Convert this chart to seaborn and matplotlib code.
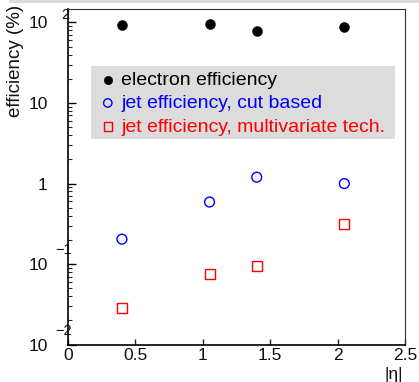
import matplotlib
matplotlib.use("Agg")
import matplotlib.pyplot as plt
import matplotlib.transforms as mtransforms
from matplotlib.patches import Rectangle
import seaborn as sns
import pandas as pd

sns.set_theme(style="white")
plt.rcParams['font.family'] = ['Liberation Sans', 'DejaVu Sans']

# data
eta = [0.40, 1.05, 1.40, 2.05]
electron_eff = [94, 97, 79, 89]
jet_eff_cut = [0.204, 0.59, 1.2, 1.0]
jet_eff_mva = [0.0284, 0.0764, 0.096, 0.313]
labels = ["electron efficiency", "jet efficiency, cut based", "jet efficiency, multivariate tech."]
ytick_vals = [1e-2, 1e-1, 1, 10, 100]
ytick_base = ["10", "10", "1", "10", "10"]
ytick_exp = ["\u22122", "\u22121", "", "", "2"]
xtick_vals = [0, 0.5, 1, 1.5, 2, 2.5]
xtick_labels = ["0", "0.5", "1", "1.5", "2", "2.5"]

W, H = 419, 382
fig = plt.figure(figsize=(W / 100, H / 100), dpi=100)
fig.patch.set_facecolor("white")
ax = fig.add_axes([68 / W, 1 - 345 / H, (405 - 68) / W, (345 - 8.5) / H])
ax.set_facecolor("white")

df = pd.DataFrame({"eta": eta, "el": electron_eff, "cut": jet_eff_cut, "mva": jet_eff_mva})

sns.scatterplot(data=df, x="eta", y="el", ax=ax, marker="o", s=52, color="black",
                edgecolor="black", linewidth=0.3, label=labels[0], zorder=3)
sns.scatterplot(data=df, x="eta", y="cut", ax=ax, marker="o", s=50, color="blue",
                facecolor="none", edgecolor="blue", linewidth=1.0, label=labels[1], zorder=3)
sns.scatterplot(data=df, x="eta", y="mva", ax=ax, marker="s", s=52, color="red",
                facecolor="none", edgecolor="red", linewidth=1.0, label=labels[2], zorder=3)

ax.set_yscale("log")
ax.set_xlim(0, 2.5)
ax.set_ylim(0.0099, 149)
ax.set_xlabel("")
ax.set_ylabel("")

ax.set_xticks(xtick_vals)
ax.set_xticklabels(xtick_labels, fontsize=12.5)
ax.set_yticks(ytick_vals)
ax.set_yticklabels(ytick_base, fontsize=12.5)
ax.yaxis.set_minor_locator(matplotlib.ticker.LogLocator(base=10, subs=range(2, 10), numticks=20))
ax.yaxis.set_minor_formatter(matplotlib.ticker.NullFormatter())
ax.tick_params(axis="y", which="major", direction="in", length=6, width=1, pad=14.5,
               left=True, right=False, colors="black", labelcolor="#111111")
ax.tick_params(axis="y", which="minor", direction="in", length=3, width=0.8, left=True, right=False)
ax.tick_params(axis="x", which="major", direction="in", length=4.5, width=1, pad=2,
               bottom=True, top=False, labelcolor="#111111")
ax.tick_params(axis="x", which="minor", bottom=False, top=False)

for side in ["left", "bottom"]:
    ax.spines[side].set_linewidth(1.2)
    ax.spines[side].set_color("black")
for side in ["top", "right"]:
    ax.spines[side].set_linewidth(0.8)
    ax.spines[side].set_color("#333333")

# exponents of tick labels
trans = mtransforms.blended_transform_factory(ax.transAxes, ax.transData)
exp_off = {"2": (-7, 7), "\u22121": (-13, 14), "\u22122": (-13, 14)}
for v, e in zip(ytick_vals, ytick_exp):
    if e:
        dx, dy = exp_off[e]
        ax.annotate(e, xy=(0, v), xycoords=trans, xytext=(dx, dy), textcoords="offset pixels",
                    ha="left", va="center", fontsize=10.5, color="#111111", annotation_clip=False)

# legend with gray box
fig.patches.append(Rectangle((91 / W, 1 - 139 / H), (395 - 91) / W, (139 - 66) / H,
                             transform=fig.transFigure, facecolor="#dcdcdc", edgecolor="none", zorder=1))
ax.set_zorder(2)
ax.patch.set_alpha(0)
fig.patches.insert(0, Rectangle((0, 0), 1, 1, transform=fig.transFigure, facecolor="white",
                                edgecolor="none", zorder=0))
leg = ax.legend(loc="upper left", bbox_to_anchor=(100 / W, 1 - 71 / H), bbox_transform=fig.transFigure,
                frameon=False, fontsize=14, markerscale=0.85, handlelength=0.8, handletextpad=0.3,
                labelspacing=0.3, borderpad=0, borderaxespad=0)
for txt, c in zip(leg.get_texts(), ["black", "blue", "red"]):
    txt.set_color(c)

# gray strip at top
fig.patches.append(Rectangle((9 / W, 1 - 3 / H), 1 - 9 / W, 3 / H, transform=fig.transFigure,
                             facecolor="#dcdcdc", edgecolor="none", zorder=1))

fig.text(15 / W, 1 - 5 / H, "efficiency (%)", rotation=90, ha="center", va="top", fontsize=13.5,
         color="#111111")
fig.text(403 / W, 1 - 375 / H, "|\u03b7|", ha="right", va="center", fontsize=12.5, color="#111111")

fig.savefig("out.png", dpi=100, facecolor="white")
